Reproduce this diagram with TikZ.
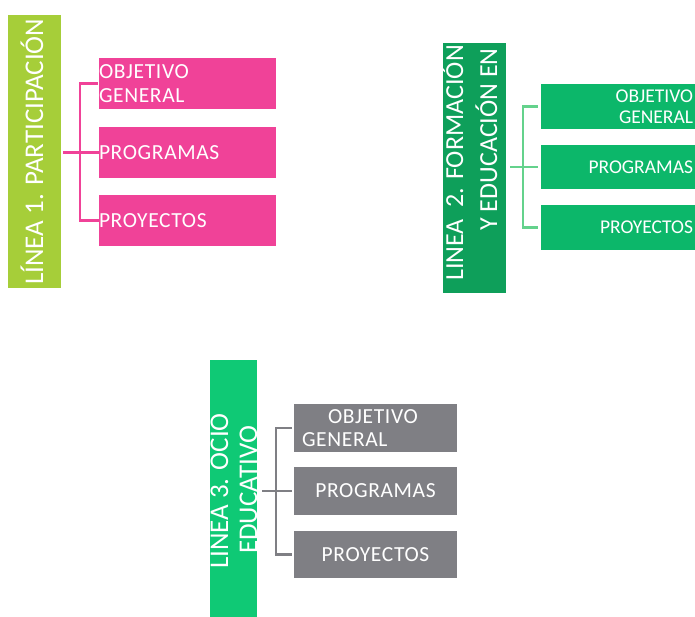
\documentclass[tikz,border=0pt]{standalone}
\usepackage{fontspec}
\setmainfont{Carlito}
\newfontfamily\boxfont[LetterSpace=3]{Carlito}
\newfontfamily\barfont{Carlito}
\definecolor{lime}{HTML}{A6CE39}
\definecolor{pinkbox}{HTML}{F04298}
\definecolor{darkgreen}{HTML}{0E9F5A}
\definecolor{greenbox}{HTML}{0CB76A}
\definecolor{brightgreen}{HTML}{0FC975}
\definecolor{graybox}{HTML}{7F7F84}
\definecolor{lightgreen}{HTML}{64D28C}
\begin{document}
\begin{tikzpicture}[x=1pt,y=-1pt,
  bar/.style={fill=#1, draw=none, inner sep=0pt},
  boxn/.style={fill=#1, draw=none, inner sep=0pt, text=white,
    font=\boxfont\fontsize{21.5}{23.5}\selectfont},
  gboxn/.style={fill=#1, draw=none, inner sep=0pt, text=white,
    font=\barfont\fontsize{19.5}{20.5}\selectfont},
  bartext/.style={rotate=90, text=white, inner sep=0pt,
    font=\barfont\fontsize{27}{30}\selectfont},
  conn/.style={draw=#1, line width=2.7pt}]
\useasboundingbox (0,0) rectangle (695,617);
\clip (0,0) rectangle (695,617);
\fill[white] (0,0) rectangle (695,617);

% ---- Line 1
\node[bar=lime, minimum width=53pt, minimum height=273pt] (bar1) at (34.5,151.5) {};
\node[bartext, anchor=base west] (t1) at (43,285) {LÍNEA 1. PARTICIPACIÓN};
\node[boxn=pinkbox, minimum width=177pt, minimum height=51pt, text width=177pt, align=left] (p1) at (187.5,83.5) {OBJETIVO\\GENERAL};
\node[boxn=pinkbox, minimum width=177pt, minimum height=51pt, text width=177pt, align=left] (p2) at (187.5,152.5) {PROGRAMAS};
\node[boxn=pinkbox, minimum width=177pt, minimum height=51pt, text width=177pt, align=left] (p3) at (187.5,220.5) {PROYECTOS};
\coordinate (jp) at (80,152.5);
\draw[conn=pinkbox, shorten <=1pt] (p1.west) -| (jp) |- (p3.west);
\draw[conn=pinkbox, shorten <=2pt] (bar1.east |- jp) -- (p2.west);

% ---- Line 2
\node[bar=darkgreen, minimum width=63pt, minimum height=250pt] (bar2) at (474.5,168) {};
\node[bartext, anchor=base east, font=\barfont\fontsize{26}{30}\selectfont] (t2a) at (463,45) {LINEA\ \ 2. FORMACIÓN};
\node[bartext, anchor=base east, font=\barfont\fontsize{26}{30}\selectfont] (t2b) at (497,48) {Y EDUCACIÓN EN};
\node[gboxn=greenbox, minimum width=159pt, minimum height=45pt, text width=145pt, align=right] (g1) at (620.5,106.5) {OBJETIVO\\GENERAL};
\node[gboxn=greenbox, minimum width=159pt, minimum height=44pt, text width=145pt, align=right] (g2) at (620.5,167) {PROGRAMAS};
\node[gboxn=greenbox, minimum width=159pt, minimum height=45pt, text width=145pt, align=right] (g3) at (620.5,227.5) {PROYECTOS};
\coordinate (jg) at (523,167);
\draw[conn=lightgreen, shorten <=3pt, shorten >=3pt] (g1.west) -| (jg) |- (g3.west);
\draw[conn=lightgreen, shorten <=4pt, shorten >=3pt] (bar2.east |- jg) -- (g2.west);

% ---- Line 3
\node[bar=brightgreen, minimum width=47pt, minimum height=262pt] (bar3) at (233.5,491) {};
\node[bartext, anchor=base] (t3a) at (228,491) {LINEA 3. OCIO};
\node[bartext, anchor=base] (t3b) at (257,490) {EDUCATIVO};
\node[boxn=graybox, minimum width=163pt, minimum height=48pt, text width=147pt, align=left] (k1) at (375.5,428) {\hspace*{26pt}OBJETIVO\\GENERAL};
\node[boxn=graybox, minimum width=163pt, minimum height=48pt, text width=163pt, align=center] (k2) at (375.5,491) {PROGRAMAS};
\node[boxn=graybox, minimum width=163pt, minimum height=47pt, text width=163pt, align=center] (k3) at (375.5,554.5) {PROYECTOS};
\coordinate (jk) at (276,491);
\draw[conn=graybox, shorten <=2pt, shorten >=2pt] (k1.west) -| (jk) |- (k3.west);
\draw[conn=graybox, shorten <=5pt, shorten >=2pt] (bar3.east |- jk) -- (k2.west);
\end{tikzpicture}
\end{document}
